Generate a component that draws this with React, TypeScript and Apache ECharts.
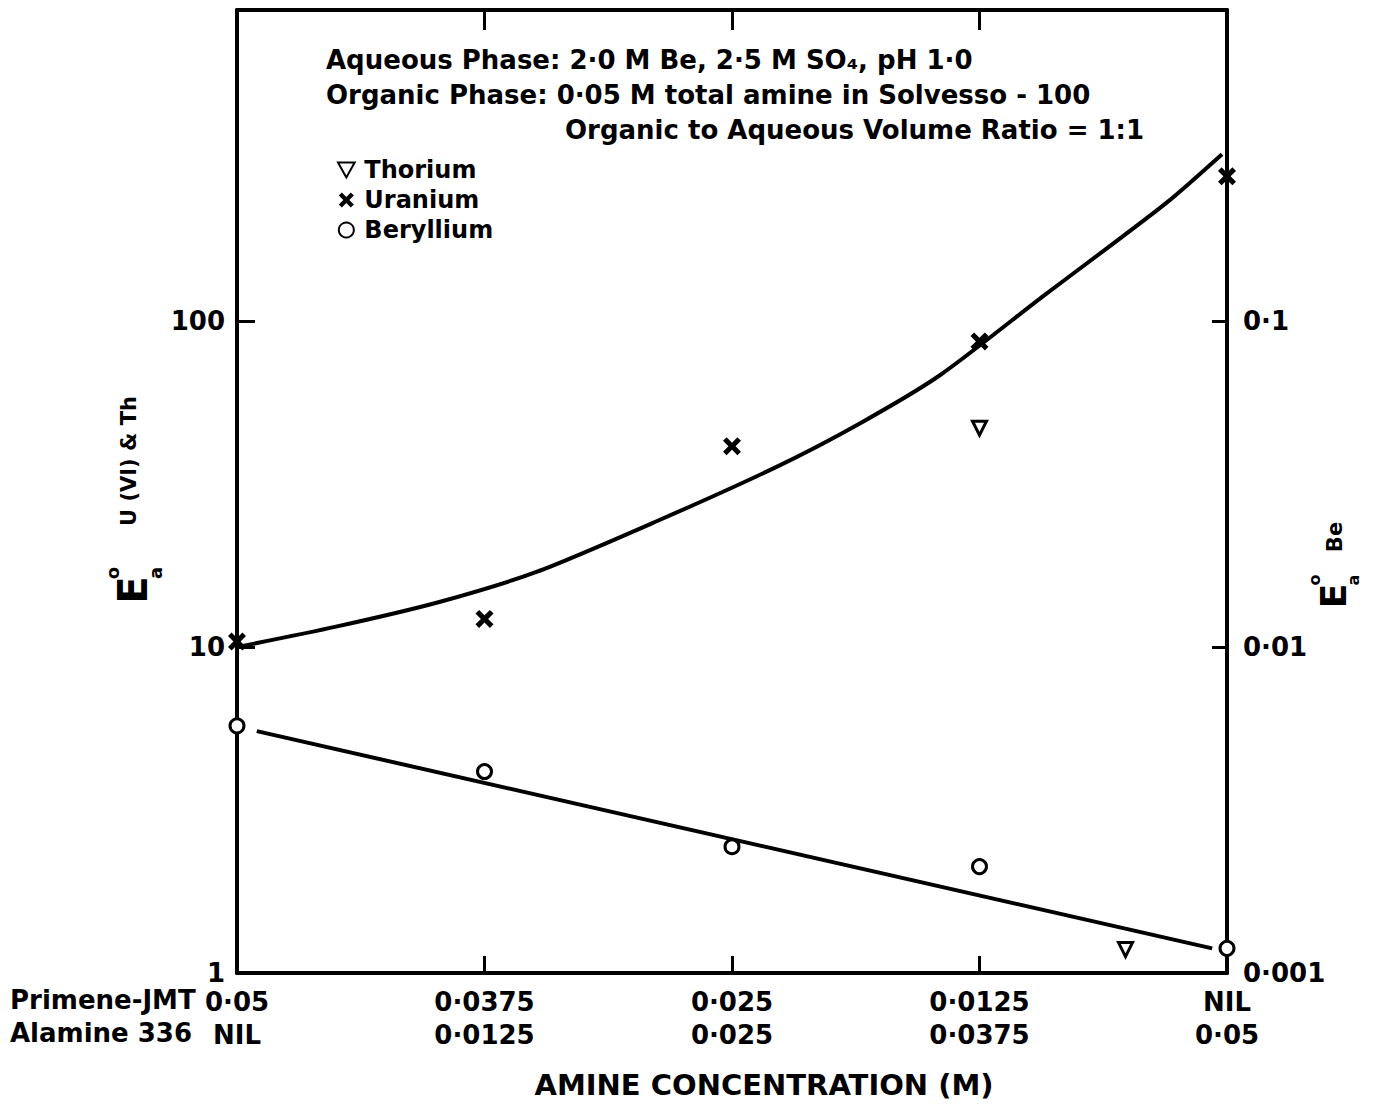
import React, { useEffect, useRef } from 'react';
import * as echarts from 'echarts';

// ---- data ----
const positions = [0, 1, 2, 3, 4];
const primeneLabels = ['0·05', '0·0375', '0·025', '0·0125', 'NIL'];
const alamineLabels = ['NIL', '0·0125', '0·025', '0·0375', '0·05'];

const uraniumX = [0, 1, 2, 3, 4];
const uraniumE = [10.4, 12.2, 41.3, 86.6, 278];

const thoriumX = [3, 3.59];
const thoriumE = [46.9, 1.18];

const berylliumX = [0, 1, 2, 3, 4];
const berylliumE = [0.00573, 0.00415, 0.00244, 0.00212, 0.00119];

// fitted curve as drawn in the figure
const uraniumCurveX = [0, 0.4, 0.81, 1.21, 1.7, 2.18, 2.52, 2.84, 3.26, 3.49, 3.76, 3.98];
const uraniumCurveE = [10.0, 11.55, 13.7, 17.0, 24.4, 35.7, 48.7, 68.2, 119.7, 161.8, 232, 325];

const berylliumLineX = [0.08, 3.94];
const berylliumLineE = [0.00552, 0.00119];

const leftTickLabels: Record<string, string> = { '0': '1', '1': '10', '2': '100', '3': '' };
const rightTickLabels: Record<string, string> = { '-3': '0·001', '-2': '0·01', '-1': '0·1', '0': '' };

const annotationLines = [
  'Aqueous Phase: 2·0 M Be, 2·5 M SO₄, pH 1·0',
  'Organic Phase: 0·05 M total amine in Solvesso - 100',
  'Organic to Aqueous Volume Ratio = 1:1',
];
const rowNames = ['Primene-JMT', 'Alamine 336'];

const FONT = '"DejaVu Sans", sans-serif';
const X_SYMBOL = 'path://M0,2 L2,0 L5,3 L8,0 L10,2 L7,5 L10,8 L8,10 L5,7 L2,10 L0,8 L3,5 Z';
const DOWN_TRIANGLE = 'path://M0,0 L10,0 L5,9 Z';

export default function App() {
  const ref = useRef<HTMLDivElement>(null);
  useEffect(() => {
    if (!ref.current) return;
    const chart = echarts.init(ref.current, undefined, { renderer: 'svg' });
    const axisLine = { show: true, onZero: false, lineStyle: { color: '#000', width: 4 } };
    const labelStyle = { color: '#000', fontSize: 26, fontWeight: 'bold' as const, fontFamily: FONT };
    const txt = (text: string, x: number, y: number, size: number, extra: any = {}) => ({
      type: 'text',
      x,
      y,
      style: {
        text,
        fill: '#000',
        fontSize: size,
        fontWeight: 'bold',
        fontFamily: FONT,
        verticalAlign: 'middle',
        align: 'left',
        ...(extra.style || {}),
      },
      ...(extra.rotation !== undefined ? { rotation: extra.rotation } : {}),
    });
    const R = Math.PI / 2;
    const logLabel = (map: Record<string, string>) => (v: number) =>
      map[String(Math.round(Math.log10(v)))] ?? '';
    chart.setOption({
      animation: false,
      backgroundColor: '#fff',
      grid: { left: 237, right: 148, top: 10, bottom: 133, containLabel: false },
      legend: {
        data: ['Thorium', 'Uranium', 'Beryllium'],
        orient: 'vertical',
        left: 332,
        top: 153,
        itemWidth: 26,
        itemHeight: 15,
        itemGap: 6,
        textStyle: { color: '#000', fontSize: 24, fontWeight: 'bold', fontFamily: FONT },
      },
      xAxis: [
        {
          type: 'value',
          min: 0,
          max: 4,
          interval: 1,
          position: 'bottom',
          axisLine,
          axisTick: { show: true, inside: true, length: 17, lineStyle: { color: '#000', width: 3 } },
          splitLine: { show: false },
          axisLabel: {
            margin: 12,
            showMinLabel: true,
            showMaxLabel: true,
            formatter: (v: number) => {
              const i = positions.indexOf(Math.round(v));
              if (i < 0) return '';
              return `{a|${primeneLabels[i]}}\n{a|${alamineLabels[i]}}`;
            },
            rich: { a: { ...labelStyle, lineHeight: 33 } },
          },
        },
        {
          type: 'value',
          min: 0,
          max: 4,
          interval: 1,
          position: 'top',
          axisLine,
          axisTick: { show: true, inside: true, length: 20, lineStyle: { color: '#000', width: 3 } },
          splitLine: { show: false },
          axisLabel: { show: false },
        },
      ],
      yAxis: [
        {
          type: 'log',
          logBase: 10,
          min: 1,
          max: 900,
          position: 'left',
          axisLine,
          axisTick: { show: true, inside: true, length: 18, lineStyle: { color: '#000', width: 3 } },
          minorTick: { show: false },
          splitLine: { show: false },
          axisLabel: { ...labelStyle, margin: 12, formatter: logLabel(leftTickLabels) },
        },
        {
          type: 'log',
          logBase: 10,
          min: 0.001,
          max: 0.9,
          position: 'right',
          axisLine,
          axisTick: { show: true, inside: true, length: 15, lineStyle: { color: '#000', width: 3 } },
          minorTick: { show: false },
          splitLine: { show: false },
          axisLabel: { ...labelStyle, margin: 16, formatter: logLabel(rightTickLabels) },
        },
      ],
      series: [
        {
          name: 'U fit',
          type: 'line',
          yAxisIndex: 0,
          smooth: 0.25,
          showSymbol: false,
          symbol: 'none',
          lineStyle: { color: '#000', width: 4 },
          data: uraniumCurveX.map((x, i) => [x, uraniumCurveE[i]]),
          z: 2,
        },
        {
          name: 'Be fit',
          type: 'line',
          yAxisIndex: 1,
          showSymbol: false,
          symbol: 'none',
          lineStyle: { color: '#000', width: 4 },
          data: berylliumLineX.map((x, i) => [x, berylliumLineE[i]]),
          z: 2,
        },
        {
          name: 'Thorium',
          type: 'scatter',
          yAxisIndex: 0,
          symbol: DOWN_TRIANGLE,
          symbolSize: 14,
          itemStyle: { color: '#fff', borderColor: '#000', borderWidth: 3, opacity: 1 },
          data: thoriumX.map((x, i) => [x, thoriumE[i]]),
          z: 5,
        },
        {
          name: 'Uranium',
          type: 'scatter',
          yAxisIndex: 0,
          symbol: X_SYMBOL,
          symbolSize: 18,
          itemStyle: { color: '#000', opacity: 1 },
          data: uraniumX.map((x, i) => [x, uraniumE[i]]),
          z: 5,
        },
        {
          name: 'Beryllium',
          type: 'scatter',
          yAxisIndex: 1,
          symbol: 'circle',
          symbolSize: 14,
          itemStyle: { color: '#fff', borderColor: '#000', borderWidth: 3, opacity: 1 },
          data: berylliumX.map((x, i) => [x, berylliumE[i]]),
          z: 5,
        },
      ],
      graphic: [
        txt(annotationLines[0], 326, 60, 26),
        txt(annotationLines[1], 326, 95, 26),
        txt(annotationLines[2], 565, 130, 26),
        txt(rowNames[0], 10, 1000, 26),
        txt(rowNames[1], 10, 1033, 26),
        txt('AMINE CONCENTRATION (M)', 764, 1085, 29, { style: { align: 'center' } }),
        // left axis name
        txt('E', 133, 590, 40, { rotation: R, style: { align: 'center' } }),
        txt('o', 112, 573, 18, { rotation: R, style: { align: 'center' } }),
        txt('a', 155, 573, 18, { rotation: R, style: { align: 'center' } }),
        txt('U (VI) & Th', 129, 461, 21, { rotation: R, style: { align: 'center' } }),
        // right axis name
        txt('E', 1333, 596, 36, { rotation: R, style: { align: 'center' } }),
        txt('o', 1314, 580, 16, { rotation: R, style: { align: 'center' } }),
        txt('a', 1353, 580, 16, { rotation: R, style: { align: 'center' } }),
        txt('Be', 1335, 537, 21, { rotation: R, style: { align: 'center' } }),
      ],
    });
    return () => chart.dispose();
  }, []);
  return (
    <div
      ref={ref}
      style={{ position: 'fixed', left: 0, top: 0, width: 1375, height: 1106, background: '#fff' }}
    />
  );
}
